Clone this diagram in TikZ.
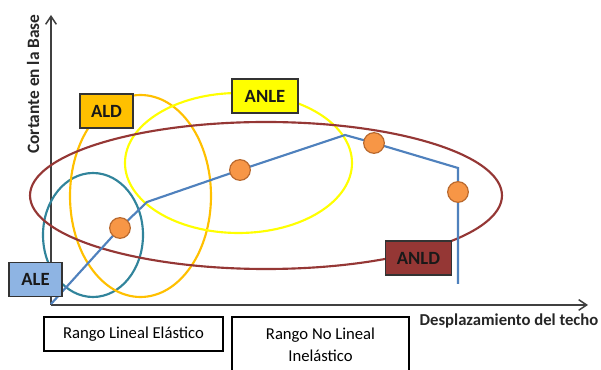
\documentclass[tikz,border=0pt]{standalone}
\usepackage{fontspec}
\setmainfont{Carlito}
\usetikzlibrary{arrows.meta,shapes.geometric}
\definecolor{axisgray}{HTML}{404040}
\definecolor{curveblue}{HTML}{4F81BD}
\definecolor{dotfill}{HTML}{F79646}
\definecolor{dotline}{HTML}{B9692E}
\definecolor{aleteal}{HTML}{31849B}
\definecolor{aldorange}{HTML}{FFC000}
\definecolor{anleyellow}{HTML}{FFFF00}
\definecolor{anldred}{HTML}{953735}
\definecolor{aleblue}{HTML}{8EB4E3}
\begin{document}
\begin{tikzpicture}[x=0.75pt,y=-0.75pt,
  axis/.style={draw=axisgray,line width=1.1pt,-{Straight Barb[length=6pt,width=8pt]}},
  region/.style={line width=1.6pt},
  curve/.style={draw=curveblue,line width=1.6pt,line join=miter},
  dot/.style={circle,fill=dotfill,draw=dotline,line width=0.9pt,minimum size=15.5pt,inner sep=0pt},
  tag/.style={draw=black!80,line width=0.8pt,font=\bfseries\fontsize{14}{16}\selectfont,text=black!90,minimum height=25.5pt,inner sep=0pt},
  rangebox/.style={draw=black,line width=0.8pt,fill=white,font=\fontsize{12.5}{16.5}\selectfont,align=center,inner sep=0pt},
  axlabel/.style={font=\bfseries\fontsize{12.5}{14}\selectfont,text=black!85}]
\path[use as bounding box,fill=white] (0,0) rectangle (601,370);

% axes
\coordinate (o) at (51,305);
\coordinate (ytop) at (51,15);
\coordinate (xend) at (588,305);
\draw[axis] (o) -- (ytop);
\draw[axis] (o) -- (xend);

% ellipses
\draw[region,draw=aleteal] (93,235) ellipse [x radius=50,y radius=62];
\draw[region,draw=aldorange] (140.5,196) ellipse [x radius=70.5,y radius=101];
\draw[region,draw=anleyellow] (238.5,163) ellipse [x radius=113.5,y radius=70];
\draw[region,draw=anldred] (266,195.5) ellipse [x radius=236,y radius=73.5];

% curve points
\coordinate (c0) at (51,304);
\coordinate (p1) at (120,228);
\coordinate (k1) at (147,202);
\coordinate (p2) at (240,170);
\coordinate (k2) at (345,135);
\coordinate (p3) at (374,143);
\coordinate (k3) at (458,168);
\coordinate (p4) at (458,192);
\coordinate (c5) at (458,284);
\draw[curve] (c0) -- (p1) -- (k1) -- (p2) -- (k2) -- (p3) -- (k3) -- (p4) -- (c5);
\node[dot] (d1) at (p1) {};
\node[dot] (d2) at (p2) {};
\node[dot] (d3) at (p3) {};
\node[dot] (d4) at (p4) {};

% tags
\node[tag,fill=aldorange,minimum width=39.75pt] (ald) at (106.5,111) {ALD};
\node[tag,fill=anleyellow,minimum width=49.5pt] (anle) at (265,96) {ANLE};
\node[tag,fill=aleblue,minimum width=39.75pt,minimum height=26pt] (ale) at (35.5,279.5) {ALE};
\node[tag,fill=anldred,minimum width=50pt] (anld) at (418.5,258) {ANLD};

% axis labels
\node[axlabel,rotate=90,font=\bfseries\fontsize{13}{15}\selectfont] (ylab) at (33,84) {Cortante en la Base};
\node[axlabel] (xlab) at (509,321) {Desplazamiento del techo};

% range boxes
\node[rangebox,minimum width=134.25pt,minimum height=25.5pt] (r1) at (133.5,334) {Rango Lineal Elástico};
\node[rangebox,minimum width=132.75pt,minimum height=42pt] (r2) at (320.5,345) {Rango No Lineal\\Inelástico};
\end{tikzpicture}
\end{document}
